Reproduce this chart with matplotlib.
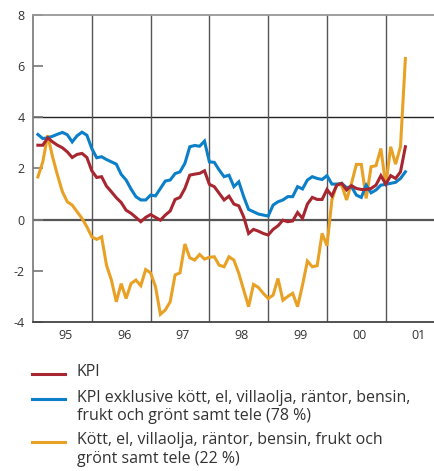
import numpy as np
import matplotlib
matplotlib.use('Agg')
import matplotlib.pyplot as plt
from matplotlib.lines import Line2D

plt.rcParams['font.family'] = ['Open Sans', 'DejaVu Sans']

# Monthly data, Jan 1995 - Apr 2001 (annual percentage change)
start_year = 1995
n_months = 76

kpi = [2.91, 2.91, 3.20, 3.04, 2.91, 2.81, 2.65, 2.43, 2.55, 2.59, 2.43, 1.91,
       1.65, 1.68, 1.31, 1.09, 0.86, 0.67, 0.37, 0.25, 0.09, -0.08, 0.09, 0.20,
       0.09, -0.02, 0.18, 0.34, 0.79, 0.87, 1.22, 1.74, 1.78, 1.81, 1.91, 1.38,
       1.29, 1.03, 0.77, 0.92, 0.61, 0.54, 0.11, -0.54, -0.38, -0.45, -0.54, -0.60,
       -0.38, -0.24, -0.02, -0.08, -0.05, 0.28, 0.05, 0.61, 0.87, 0.79, 0.79, 1.18,
       0.93, 1.35, 1.42, 1.16, 1.33, 1.22, 1.18, 1.18, 1.22, 1.35, 1.72, 1.39,
       1.72, 1.61, 1.87, 2.85]

kpi_excl = [3.33, 3.17, 3.20, 3.26, 3.34, 3.41, 3.32, 3.04, 3.28, 3.42, 3.30, 2.78,
            2.42, 2.46, 2.35, 2.26, 2.17, 1.77, 1.55, 1.20, 0.90, 0.77, 0.77, 0.96,
            0.93, 1.22, 1.51, 1.55, 1.80, 1.87, 2.20, 2.85, 2.90, 2.87, 3.07, 2.26,
            2.24, 1.94, 1.68, 1.74, 1.29, 1.48, 0.90, 0.40, 0.31, 0.22, 0.18, 0.14,
            0.57, 0.70, 0.77, 0.90, 0.90, 1.29, 1.20, 1.55, 1.68, 1.61, 1.57, 1.72,
            1.39, 1.39, 1.42, 1.25, 1.29, 0.96, 0.87, 1.35, 1.05, 1.16, 1.35, 1.38,
            1.42, 1.46, 1.61, 1.87]

volatile = [1.67, 2.26, 3.30, 2.45, 1.74, 1.09, 0.70, 0.57, 0.31, 0.05, -0.28, -0.67,
            -0.77, -0.67, -1.78, -2.36, -3.21, -2.50, -3.08, -2.50, -2.36, -2.58, -1.95, -2.08,
            -2.62, -3.70, -3.53, -3.21, -2.16, -2.08, -0.95, -1.49, -1.58, -1.36, -1.54, -1.47,
            -1.45, -1.78, -1.84, -1.45, -1.58, -2.10, -2.75, -3.40, -2.53, -2.65, -2.88, -3.08,
            -2.95, -2.30, -3.15, -3.00, -2.88, -3.40, -2.56, -1.62, -1.84, -1.80, -0.54, -1.02,
            0.77, 1.38, 1.35, 0.77, 1.42, 2.16, 2.16, 0.83, 2.07, 2.11, 2.78, 1.35,
            2.85, 2.17, 2.85, 6.30]

year_labels = ['95', '96', '97', '98', '99', '00', '01']
legend_labels = ['KPI',
                 'KPI exklusive kött, el, villaolja, räntor, bensin,\nfrukt och grönt samt tele (78 %)',
                 'Kött, el, villaolja, räntor, bensin, frukt och\ngrönt samt tele (22 %)']

red = '#a8262f'
blue = '#0b7fc7'
orange = '#e9a125'

x = start_year + np.arange(1, n_months + 1) / 12.0

fig = plt.figure(figsize=(4.34, 4.71), dpi=100)
ax = fig.add_axes([33 / 434, 1 - 322 / 471, 1 - 33 / 434, (322 - 15) / 471])

ax.plot(x, volatile, color=orange, lw=2.2, solid_joinstyle='miter')
ax.plot(x, kpi_excl, color=blue, lw=2.2, solid_joinstyle='miter')
ax.plot(x, kpi, color=red, lw=2.2, solid_joinstyle='miter')

ax.set_xlim(1995, 2001.82)
ax.set_ylim(-4, 8)

# horizontal reference lines
ax.axhline(4, color='#222222', lw=1.0, zorder=0)
ax.axhline(0, color='#555555', lw=1.6, zorder=0)

# year boundaries
years = np.arange(1996, 2002)
for yr in years:
    ax.axvline(yr, color='#555555', lw=1.0, zorder=0)

ax.set_xticks(np.arange(1995, 2002) + 0.55)
ax.set_xticklabels(year_labels)
ax.tick_params(axis='x', length=0, pad=5, labelsize=9, labelcolor='#333333')

ax.set_yticks(np.arange(-4, 9, 2))
ax.set_yticklabels(['-4', '-2', '0', '2', '4', '6', '8'])
ax.tick_params(axis='y', direction='in', length=7, width=1.2, color='#777777',
               pad=6, labelsize=9, labelcolor='#333333')

ax.spines['right'].set_visible(False)
ax.spines['top'].set_color('#999999')
ax.spines['top'].set_linewidth(1.3)
ax.spines['left'].set_color('#777777')
ax.spines['left'].set_linewidth(1.2)
ax.spines['bottom'].set_color('#444444')
ax.spines['bottom'].set_linewidth(1.3)

# legend drawn below the chart
H = 471.0
W = 434.0
entries = [(red, 374, legend_labels[0]),
           (blue, 399, legend_labels[1]),
           (orange, 442, legend_labels[2])]
for col, ypx, lab in entries:
    fig.add_artist(Line2D([32 / W, 65 / W], [1 - ypx / H, 1 - ypx / H],
                          color=col, lw=2.2, transform=fig.transFigure))
    fig.text(77 / W, 1 - (ypx - 9.5) / H, lab, ha='left', va='top',
             fontsize=11.5, color='#333333', linespacing=1.2)

fig.savefig('out.png', dpi=100)
